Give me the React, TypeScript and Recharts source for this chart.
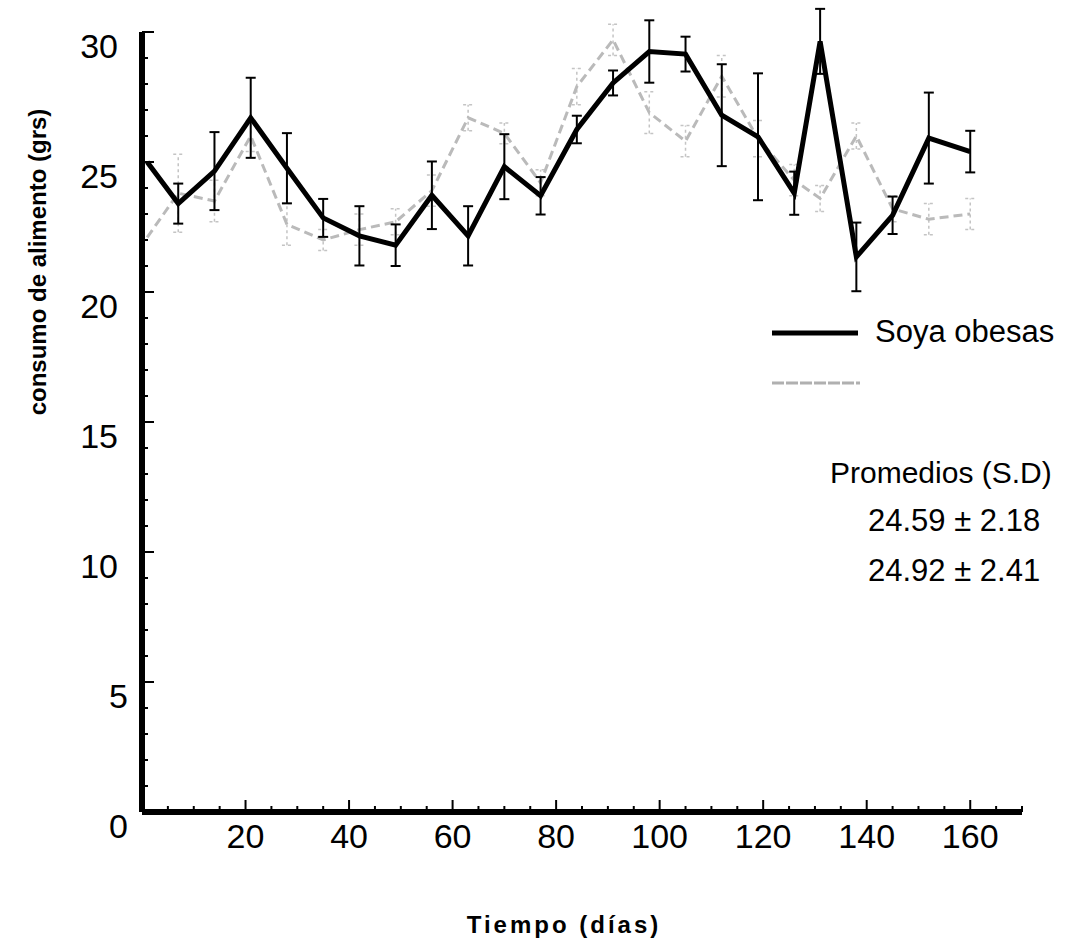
import { ComposedChart, Line, XAxis, YAxis, ErrorBar } from 'recharts';

// días de medición
const days = [1, 7, 14, 21, 28, 35, 42, 49, 56, 63, 70, 77, 84, 91, 98, 105, 112, 119, 126, 131, 138, 145, 152, 160];
// Soya obesas (línea negra)
const soya = [25.0, 23.4, 24.65, 26.7, 24.76, 22.85, 22.16, 21.8, 23.72, 22.16, 24.82, 23.7, 26.25, 28.04, 29.25, 29.15, 26.8, 25.97, 23.8, 29.64, 21.35, 22.95, 25.92, 25.4];
const soyaSd = [0, 0.77, 1.5, 1.54, 1.35, 0.73, 1.14, 0.8, 1.3, 1.14, 1.25, 0.72, 0.53, 0.48, 1.2, 0.67, 1.96, 2.44, 0.83, 1.25, 1.32, 0.72, 1.75, 0.8];
// segunda serie (línea gris, leyenda ilegible)
const gris = [22.1, 23.8, 23.5, 26.0, 22.6, 22.0, 22.4, 22.7, 23.9, 26.7, 26.1, 24.2, 27.9, 29.7, 26.9, 25.8, 28.3, 25.9, 24.3, 23.6, 26.0, 23.2, 22.8, 23.0];
const grisSd = [0, 1.5, 0.8, 0.6, 0.8, 0.4, 0.6, 0.5, 0.6, 0.5, 0.4, 0.5, 0.7, 0.6, 0.8, 0.6, 0.8, 0.7, 0.6, 0.5, 0.5, 0.5, 0.6, 0.6];

const yTicks = Array.from({ length: 31 }, (_, i) => i);
const xTicks = Array.from({ length: 35 }, (_, i) => i * 5);

const data = days.map((d, i) => ({
  day: d,
  soya: soya[i],
  soyaSd: soyaSd[i],
  gris: gris[i],
  grisSd: grisSd[i],
}));

const FONT = '"Liberation Sans", Arial, sans-serif';

function YTick(props: any) {
  const { x, y, payload } = props;
  const v = payload.value;
  const major = v % 5 === 0;
  return (
    <g>
      {v !== 0 && (
        <line x1={x} x2={x + (major ? 12 : 6)} y1={y} y2={y} stroke="#000" strokeWidth={2} />
      )}
      {major && (
        <text x={x - (v <= 5 ? 14 : 24)} y={y + 26} textAnchor="end" fontSize={34} fontFamily={FONT} fill="#000">
          {v}
        </text>
      )}
    </g>
  );
}

function XTick(props: any) {
  const { x, y, payload } = props;
  const v = payload.value;
  const major = v % 20 === 0;
  return (
    <g>
      {v !== 0 && (
        <line x1={x} x2={x} y1={y} y2={y - (major ? 12 : 6)} stroke="#000" strokeWidth={2} />
      )}
      {major && v !== 0 && (
        <text x={x} y={y + 36} textAnchor="middle" fontSize={34} fontFamily={FONT} fill="#000">
          {v}
        </text>
      )}
    </g>
  );
}

function LegendBox() {
  return (
    <svg width={327} height={320} style={{ fontFamily: FONT, display: 'block' }}>
      <line x1={22} x2={108} y1={43} y2={43} stroke="#000" strokeWidth={5} />
      <text x={125} y={52} fontSize={31} fill="#000">Soya obesas</text>
      <line x1={22} x2={110} y1={93} y2={93} stroke="#b0b0b0" strokeWidth={3} strokeDasharray="12 2" />
      <text x={80} y={193} fontSize={30} fill="#000">Promedios (S.D)</text>
      <text x={118} y={241} fontSize={31} fill="#000">24.59 ± 2.18</text>
      <text x={118} y={291} fontSize={31} fill="#000">24.92 ± 2.41</text>
    </svg>
  );
}

export default function App() {
  return (
    <div style={{ position: 'absolute', left: 0, top: 0, width: 1077, height: 949, background: '#fff' }}>
      <ComposedChart width={1077} height={949} data={data} margin={{ top: 32, right: 55, bottom: 0, left: 0 }}>
        <XAxis
          type="number"
          dataKey="day"
          domain={[0, 170]}
          allowDataOverflow
          ticks={xTicks}
          interval={0}
          height={137}
          tickSize={0}
          tickMargin={0}
          tickLine={false}
          tick={<XTick />}
          axisLine={{ stroke: '#000', strokeWidth: 6 }}
          label={{
            content: (p: any) => (
              <text
                x={p.viewBox.x + p.viewBox.width / 2 - 18}
                y={933}
                textAnchor="middle"
                fontSize={24}
                fontWeight="bold"
                letterSpacing={3}
                fontFamily={FONT}
                fill="#000"
              >
                Tiempo (días)
              </text>
            ),
          }}
        />
        <YAxis
          type="number"
          domain={[0, 30]}
          allowDataOverflow
          ticks={yTicks}
          interval={0}
          width={142}
          tickSize={0}
          tickMargin={0}
          tickLine={false}
          tick={<YTick />}
          axisLine={{ stroke: '#000', strokeWidth: 6 }}
          label={{
            content: () => (
              <text
                x={46}
                y={262}
                transform="rotate(-90 46 262)"
                textAnchor="middle"
                fontSize={24}
                fontWeight="bold"
                fontFamily={FONT}
                fill="#000"
              >
                consumo de alimento (grs)
              </text>
            ),
          }}
        />
        <Line
          dataKey="gris"
          stroke="#bababa"
          strokeWidth={3}
          strokeDasharray="9 5"
          dot={false}
          isAnimationActive={false}
        >
          <ErrorBar dataKey="grisSd" width={5} stroke="#c4c4c4" strokeWidth={1.5} strokeDasharray="3 3" direction="y" isAnimationActive={false} />
        </Line>
        <Line
          dataKey="soya"
          stroke="#000"
          strokeWidth={5}
          dot={false}
          isAnimationActive={false}
        >
          <ErrorBar dataKey="soyaSd" width={5} stroke="#000" strokeWidth={2} direction="y" isAnimationActive={false} />
        </Line>
      </ComposedChart>
      <div style={{ position: 'absolute', left: 750, top: 290 }}>
        <LegendBox />
      </div>
    </div>
  );
}
